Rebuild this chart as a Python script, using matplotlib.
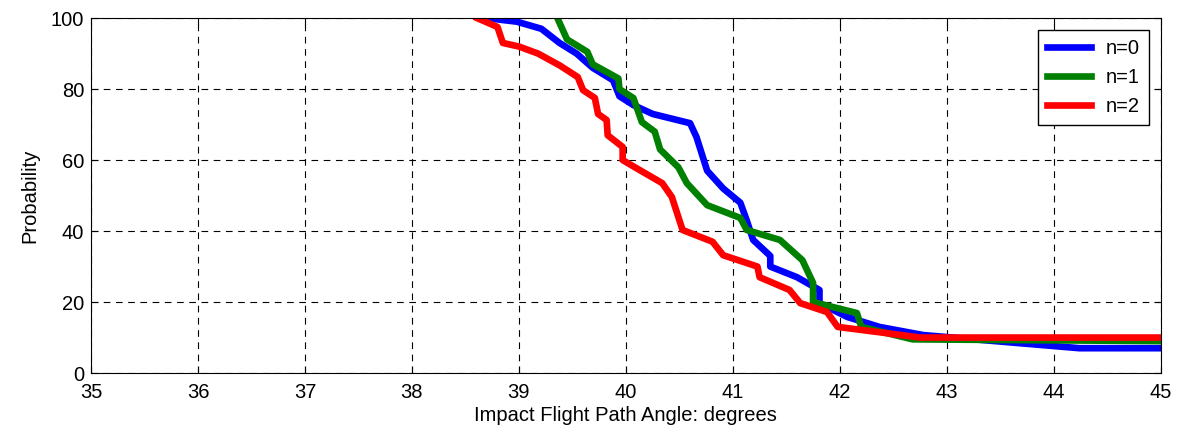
import matplotlib
matplotlib.use('Agg')
import matplotlib.pyplot as plt

plt.rcParams['font.family'] = ['Liberation Sans', 'DejaVu Sans']

# n=0 (blue)
x0 = [38.70, 38.98, 39.21, 39.38, 39.54, 39.69, 39.88, 39.94, 40.07, 40.25, 40.60, 40.66,
      40.76, 40.91, 41.07, 41.13, 41.19, 41.35, 41.35, 41.60, 41.81, 41.81, 42.07, 42.37,
      42.78, 44.24, 45.0]
y0 = [100, 99, 97, 93, 90, 86, 82.5, 78, 75.5, 73, 70.4, 66.5,
      57, 52, 48, 43, 37.5, 33, 30, 27, 23.4, 19.7, 15.8, 13,
      10.7, 7, 7]

# n=1 (green)
x1 = [39.36, 39.45, 39.64, 39.69, 39.93, 39.94, 40.07, 40.15, 40.27, 40.32, 40.49, 40.57,
      40.76, 41.07, 41.13, 41.44, 41.65, 41.75, 41.75, 42.16, 42.20, 42.68, 45.0]
y1 = [100, 94, 90.5, 87, 83, 80, 77.5, 70.7, 68, 63, 58, 53.5,
      47.3, 43.7, 40.3, 37.5, 31.8, 25.4, 20, 16.9, 13, 9.5, 9]

# n=2 (red)
x2 = [38.61, 38.80, 38.85, 39.00, 39.18, 39.38, 39.55, 39.60, 39.71, 39.74, 39.82, 39.83,
      39.97, 39.97, 40.10, 40.34, 40.43, 40.53, 40.81, 40.91, 41.23, 41.25, 41.53, 41.63,
      41.88, 41.98, 42.37, 42.75, 45.0]
y2 = [100, 97.5, 93, 92, 90, 86.7, 83.4, 79.7, 77.5, 73, 71.3, 67,
      63.7, 60, 57.7, 53.5, 49.6, 40.3, 37, 33.2, 30, 27, 23.4, 19.7,
      17.2, 13, 11.5, 10, 10]

xticks = list(range(35, 46))
yticks = [0, 20, 40, 60, 80, 100]

fs = 14.5

fig = plt.figure(figsize=(11.82, 4.42), dpi=100)
ax = fig.add_axes([0.077, 0.156, 0.905, 0.803])

ax.plot(x0, y0, color='#0000ff', lw=4.8, label='n=0')
ax.plot(x1, y1, color='#008000', lw=4.8, label='n=1')
ax.plot(x2, y2, color='#ff0000', lw=4.8, label='n=2')

ax.set_xlim(35, 45)
ax.set_ylim(0, 100)
ax.set_xticks(xticks)
ax.set_yticks(yticks)
ax.tick_params(direction='in', labelsize=fs, length=5, top=True, right=True)
ax.tick_params(axis='x', pad=7)
ax.tick_params(axis='y', pad=5)
ax.grid(True, color='black', linestyle=(0, (6, 5)), lw=0.8)
ax.set_xlabel('Impact Flight Path Angle: degrees', fontsize=fs, labelpad=3)
ax.set_ylabel('Probability', fontsize=fs, labelpad=8)

leg = ax.legend(loc='upper right', fontsize=fs, fancybox=False, framealpha=1,
                edgecolor='black', handlelength=2.2, handletextpad=0.7,
                borderaxespad=0.6, borderpad=0.45)
leg.get_frame().set_linewidth(1)

fig.savefig('out.png', dpi=100)
